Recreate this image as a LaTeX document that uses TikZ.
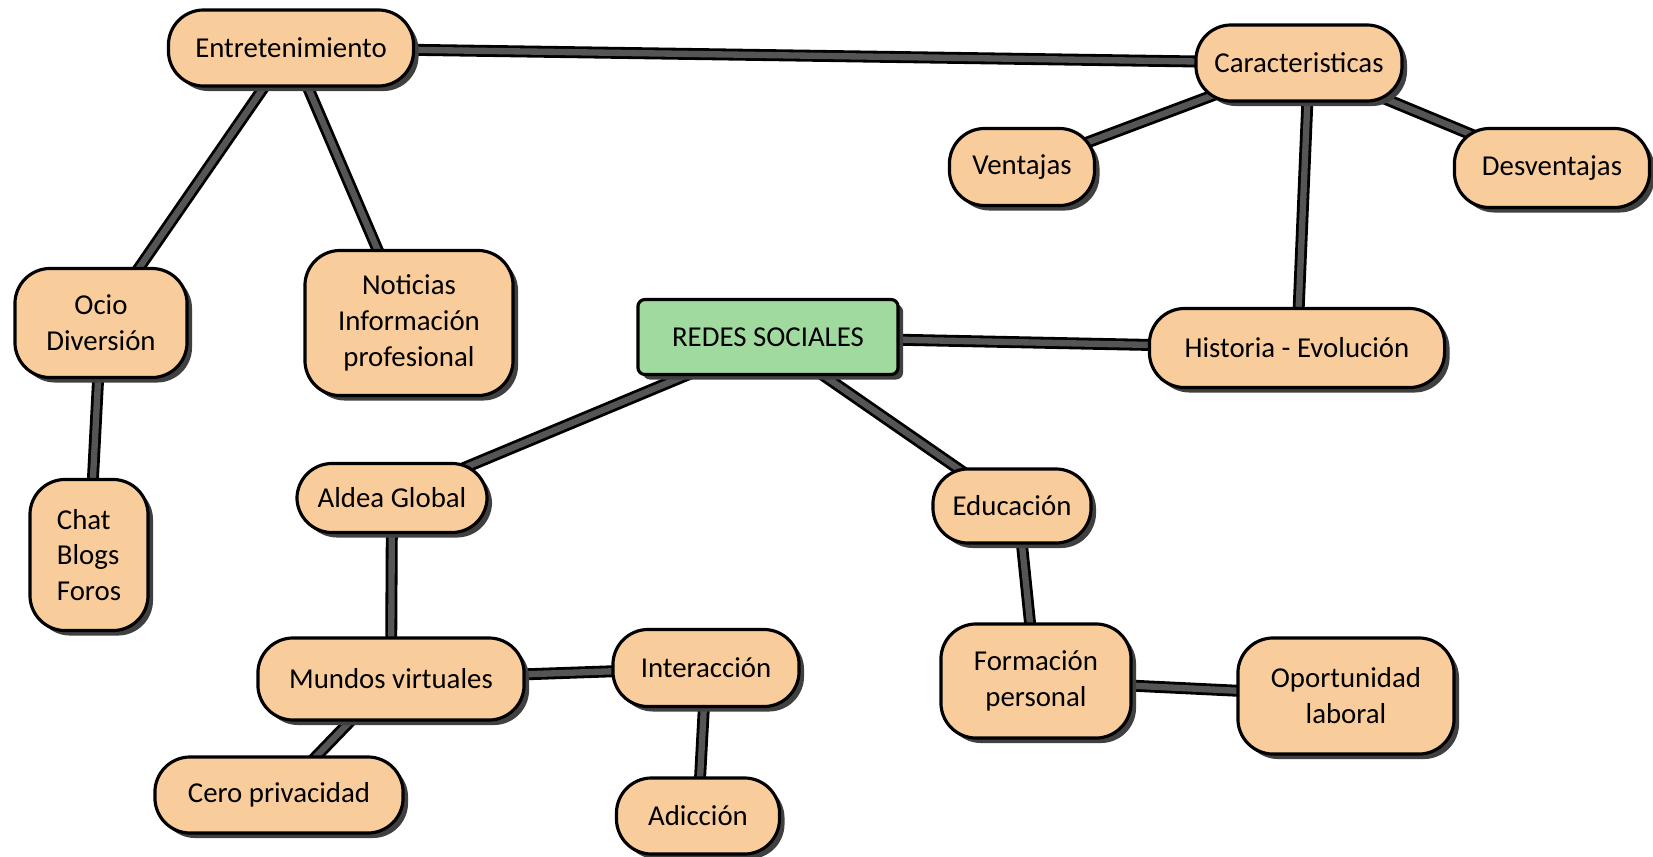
\documentclass[tikz,border=0pt]{standalone}
\usepackage{fontspec}
\setmainfont{Carlito}
\usetikzlibrary{positioning}
\usetikzlibrary{shadows}
\usetikzlibrary{backgrounds}
\definecolor{peach}{RGB}{249,204,155}
\definecolor{mint}{RGB}{160,218,158}
\definecolor{slate}{RGB}{85,85,85}

\begin{document}
\begin{tikzpicture}[
    x=0.01cm, y=-0.01cm,
    % node styles
    idea/.style = {
      draw=black,
      line width=0.9pt,
      fill=peach,
      rounded corners=10pt,
      align=center,
      inner sep=2pt,
      font=\fontsize{8.2}{10.2}\selectfont,
      drop shadow={shadow xshift=0.05cm, shadow yshift=-0.05cm, fill=black!75, opacity=1}
    },
    root/.style = {
      idea,
      fill=mint,
      rounded corners=2pt
    },
    sz/.style 2 args = {minimum width=#1cm, minimum height=#2cm},
    % connector style
    link/.style = {line width=3.4pt, draw=black, postaction={draw=slate, line width=1.8pt}}
  ]
  \useasboundingbox (0,0) rectangle (1653,857);

  % --- Nodes
  \node[root, sz={2.60}{0.75}] (redes) at (768,337) {REDES SOCIALES};

  \node[idea, sz={2.45}{0.76}] (entre) at (291,48) {Entretenimiento};
  \node[idea, sz={1.72}{1.09}] (ocio) at (101,323) {Ocio\\Diversión};
  \node[idea, sz={2.08}{1.45}] (notic) at (409,323) {Noticias\\Información\\profesional};
  \node[idea, sz={1.18}{1.51}, align=left] (chat) at (89,555) {Chat\\Blogs\\Foros};

  \node[idea, sz={2.06}{0.76}] (caract) at (1299,63) {Caracteristicas};
  \node[idea, sz={1.45}{0.77}] (vent) at (1022,167) {Ventajas};
  \node[idea, sz={1.95}{0.79}] (desv) at (1552,168) {Desventajas};
  \node[idea, sz={2.95}{0.79}] (hist) at (1297,348) {Historia - Evolución};

  \node[idea, sz={1.90}{0.69}] (aldea) at (392,498) {Aldea Global};
  \node[idea, sz={2.66}{0.82}] (mundos) at (391,679) {Mundos virtuales};
  \node[idea, sz={1.86}{0.77}] (inter) at (706,668) {Interacción};
  \node[idea, sz={2.48}{0.76}] (cero) at (279,795) {Cero privacidad};
  \node[idea, sz={1.63}{0.76}] (adic) at (698,816) {Adicción};

  \node[idea, sz={1.58}{0.74}] (edu) at (1012,506) {Educación};
  \node[idea, sz={1.90}{1.14}] (form) at (1036,681) {Formación\\personal};
  \node[idea, sz={2.16}{1.16}] (oport) at (1346,696) {Oportunidad\\laboral};

  % --- Links (centre to centre, hidden behind the nodes)
  \begin{scope}[on background layer]
    \fill[white] (0,0) rectangle (1653,857);
    \draw[link] (entre.center) -- (caract.center);
    \draw[link] (entre.center) -- (ocio.center);
    \draw[link] (entre.center) -- (notic.center);
    \draw[link] (ocio.center) -- (chat.center);
    \draw[link] (caract.center) -- (vent.center);
    \draw[link] (caract.center) -- (desv.center);
    \draw[link] ([xshift=0.1cm]caract.center) -- (hist.center);
    \draw[link] (redes.center) -- (hist.center);
    \draw[link] ([xshift=0.1cm]redes.center) -- (aldea.center);
    \draw[link] (redes.center) -- (edu.center);
    \draw[link] (aldea.center) -- (mundos.center);
    \draw[link] (mundos.center) -- (inter.center);
    \draw[link] (mundos.center) -- (cero.center);
    \draw[link] (inter.center) -- (adic.center);
    \draw[link] ([xshift=0.06cm]edu.center) -- (form.center);
    \draw[link] (form.center) -- (oport.center);
  \end{scope}

\end{tikzpicture}
\end{document}
